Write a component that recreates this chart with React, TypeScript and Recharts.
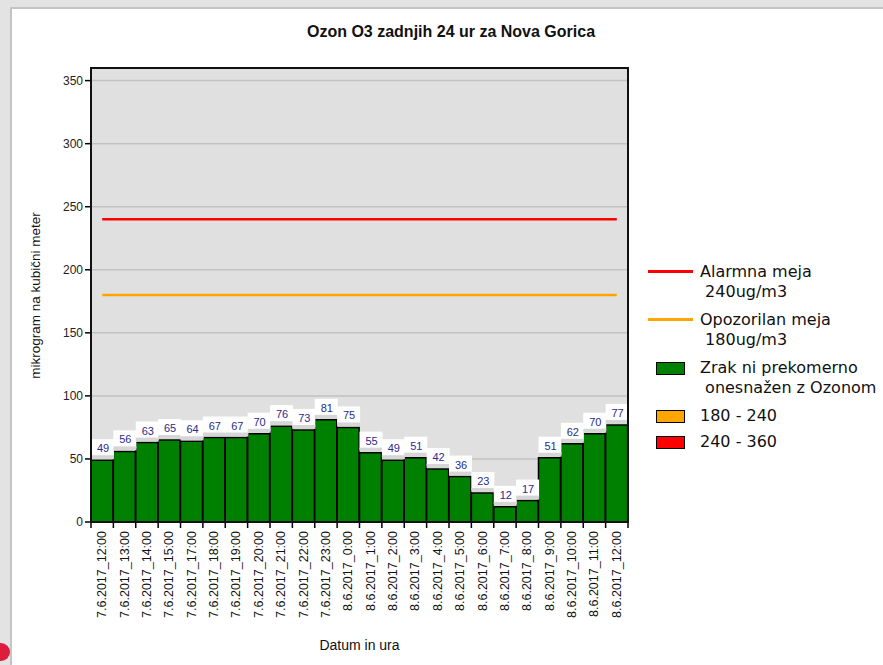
import React from "react";
import {
  ComposedChart,
  Bar,
  Line,
  XAxis,
  YAxis,
  CartesianGrid,
  LabelList,
} from "recharts";

const hours = [
  "7.6.2017_12:00", "7.6.2017_13:00", "7.6.2017_14:00", "7.6.2017_15:00",
  "7.6.2017_17:00", "7.6.2017_18:00", "7.6.2017_19:00", "7.6.2017_20:00",
  "7.6.2017_21:00", "7.6.2017_22:00", "7.6.2017_23:00", "8.6.2017_0:00",
  "8.6.2017_1:00", "8.6.2017_2:00", "8.6.2017_3:00", "8.6.2017_4:00",
  "8.6.2017_5:00", "8.6.2017_6:00", "8.6.2017_7:00", "8.6.2017_8:00",
  "8.6.2017_9:00", "8.6.2017_10:00", "8.6.2017_11:00", "8.6.2017_12:00",
];

const ozone = [
  49, 56, 63, 65, 64, 67, 67, 70, 76, 73, 81, 75,
  55, 49, 51, 42, 36, 23, 12, 17, 51, 62, 70, 77,
];

const alarmLimit = 240;
const warningLimit = 180;
const yTicks = [0, 50, 100, 150, 200, 250, 300, 350];

const legendItems = [
  { kind: "line", color: "#ff0000", text: ["Alarmna meja", " 240ug/m3"] },
  { kind: "line", color: "#ffa500", text: ["Opozorilan meja", " 180ug/m3"] },
  { kind: "box", color: "#008000", text: ["Zrak ni prekomerno", " onesnažen z Ozonom"] },
  { kind: "box", color: "#ffa500", text: ["180 - 240"] },
  { kind: "box", color: "#ff0000", text: ["240 - 360"] },
];

const data = hours.map((h, i) => ({
  hour: h,
  ozone: ozone[i],
  alarm: alarmLimit,
  warning: warningLimit,
}));

const W = 883;
const H = 665;
const PLOT_LEFT = 91;
const PLOT_RIGHT = 628;
const PLOT_TOP = 68;
const PLOT_BOTTOM = 522;
const BAND = (PLOT_RIGHT - PLOT_LEFT) / hours.length;

const font = "'Liberation Sans', Arial, sans-serif";

function XTick(props: any) {
  const { x, y, payload, index } = props;
  return (
    <g>
      <line x1={x - BAND / 2} y1={y} x2={x - BAND / 2} y2={y + 6} stroke="#000" strokeWidth={1.5} />
      {index === hours.length - 1 && (
        <line x1={x + BAND / 2} y1={y} x2={x + BAND / 2} y2={y + 6} stroke="#000" strokeWidth={1.5} />
      )}
      <text
        x={x + 4}
        y={y + 9}
        transform={`rotate(-90, ${x + 4}, ${y + 9})`}
        textAnchor="end"
        fontSize={12.5}
        fontFamily={font}
        fill="#111"
      >
        {payload.value}
      </text>
    </g>
  );
}

function ValueLabel(props: any) {
  const { x, y, width, value } = props;
  const cx = x + width / 2;
  return (
    <g>
      <rect x={cx - 11} y={y - 21} width={23} height={18} fill="#ffffff" />
      <rect x={cx - 11} y={y - 5} width={23} height={4} fill="#d6d6d6" />
      <text
        x={cx + 1}
        y={y - 8}
        textAnchor="middle"
        fontSize={11}
        fontFamily={font}
        fill="#2a2a8a"
      >
        {value}
      </text>
    </g>
  );
}

export default function App() {
  return (
    <div
      style={{
        position: "absolute",
        left: 0,
        top: 0,
        width: W,
        height: H,
        background: "#e3e3e3",
        overflow: "hidden",
        fontFamily: font,
      }}
    >
      <div
        style={{
          position: "absolute",
          left: 10,
          top: 7,
          width: W - 10,
          height: H - 7,
          background: "#ffffff",
          borderLeft: "2px solid #c4c4c4",
          borderTop: "2px solid #c4c4c4",
        }}
      />
      <div
        style={{
          position: "absolute",
          left: -8,
          top: 643,
          width: 18,
          height: 18,
          borderRadius: 9,
          background: "#dc1e3c",
        }}
      />
      <div
        style={{
          position: "absolute",
          left: 0,
          width: 902,
          top: 23,
          textAlign: "center",
          fontSize: 16,
          fontWeight: "bold",
          color: "#111",
        }}
      >
        Ozon O3 zadnjih 24 ur za Nova Gorica
      </div>
      <div style={{ position: "absolute", left: 0, top: 0 }}>
        <ComposedChart
          width={W}
          height={H}
          data={data}
          margin={{ top: PLOT_TOP, right: W - PLOT_RIGHT, bottom: 43, left: 0 }}
          barCategoryGap={0}
          barGap={0}
        >
          <CartesianGrid
            vertical={false}
            fill="#e0e0e0"
            stroke="#c2c2c2"
            strokeWidth={1.5}
          />
          <XAxis
            dataKey="hour"
            interval={0}
            height={H - PLOT_BOTTOM - 43}
            tickSize={0}
            tickMargin={0}
            tickLine={false}
            axisLine={{ stroke: "#000", strokeWidth: 2 }}
            tick={<XTick />}
          />
          <YAxis
            width={PLOT_LEFT}
            domain={[0, 360]}
            ticks={yTicks}
            interval={0}
            tickSize={6}
            tickMargin={2}
            tickLine={{ stroke: "#000", strokeWidth: 1.5 }}
            axisLine={{ stroke: "#000", strokeWidth: 2 }}
            tick={{ fontSize: 12, fontFamily: font, fill: "#222" }}
          />
          <Bar
            dataKey="ozone"
            fill="#008000"
            stroke="#000"
            strokeWidth={1.5}
            isAnimationActive={false}
          >
            <LabelList dataKey="ozone" content={<ValueLabel />} />
          </Bar>
          <Line
            dataKey="alarm"
            stroke="#ff0000"
            strokeWidth={2.5}
            dot={false}
            activeDot={false}
            isAnimationActive={false}
          />
          <Line
            dataKey="warning"
            stroke="#ffa500"
            strokeWidth={2.5}
            dot={false}
            activeDot={false}
            isAnimationActive={false}
          />
        </ComposedChart>
      </div>
      <div
        style={{
          position: "absolute",
          left: PLOT_LEFT - 1,
          top: PLOT_TOP - 1,
          width: PLOT_RIGHT - PLOT_LEFT - 2,
          height: PLOT_BOTTOM - PLOT_TOP - 2,
          border: "2px solid #111",
          pointerEvents: "none",
        }}
      />
      <div
        style={{
          position: "absolute",
          left: 0,
          top: PLOT_TOP,
          width: 70,
          height: PLOT_BOTTOM - PLOT_TOP,
          display: "flex",
          alignItems: "center",
          justifyContent: "center",
        }}
      >
        <div
          style={{
            transform: "rotate(-90deg)",
            whiteSpace: "nowrap",
            fontSize: 13.5,
            color: "#111",
          }}
        >
          mikrogram na kubični meter
        </div>
      </div>
      <div
        style={{
          position: "absolute",
          left: PLOT_LEFT,
          width: PLOT_RIGHT - PLOT_LEFT,
          top: 637,
          textAlign: "center",
          fontSize: 14,
          color: "#111",
        }}
      >
        Datum in ura
      </div>
      <div
        style={{
          position: "absolute",
          left: 648,
          top: 262,
          fontFamily: "'DejaVu Sans', Verdana, sans-serif",
          fontSize: 16,
          color: "#111",
        }}
      >
        {legendItems.map((item, i) => (
          <div
            key={i}
            style={{
              display: "flex",
              marginBottom: item.text.length > 1 ? 9 : 6,
              lineHeight: "19.5px",
            }}
          >
            <div style={{ width: 52, flexShrink: 0, position: "relative" }}>
              {item.kind === "line" ? (
                <div
                  style={{
                    position: "absolute",
                    left: 0,
                    top: 8,
                    width: 45,
                    height: 3,
                    background: item.color,
                  }}
                />
              ) : (
                <div
                  style={{
                    position: "absolute",
                    left: 8,
                    top: 4,
                    width: 27,
                    height: 11,
                    background: item.color,
                    border: "1.5px solid #000",
                  }}
                />
              )}
            </div>
            <div style={{ whiteSpace: "pre" }}>
              {item.text.map((t, j) => (
                <div key={j}>{t}</div>
              ))}
            </div>
          </div>
        ))}
      </div>
    </div>
  );
}
